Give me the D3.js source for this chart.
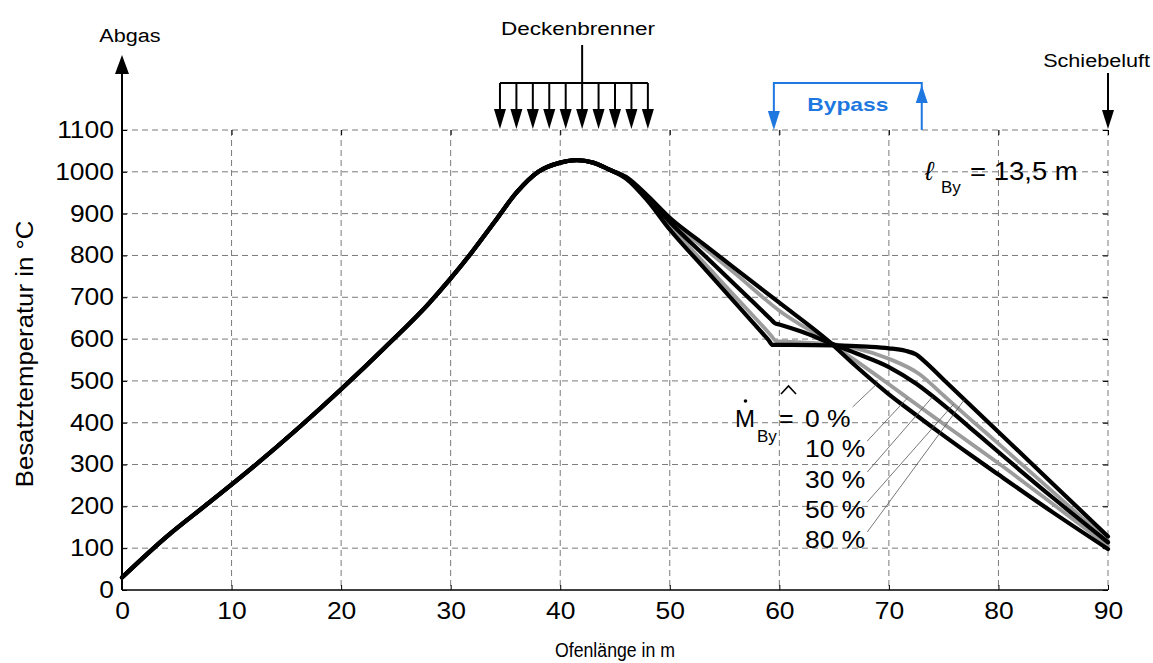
<!DOCTYPE html>
<html lang="de">
<head>
<meta charset="UTF-8">
<title>Besatztemperatur über Ofenlänge</title>
<script src="https://d3js.org/d3.v7.min.js"></script>
<style>
  body { margin: 0; background: #fff; }
  svg { display: block; background: #fff; }
  text { font-family: "Liberation Sans", Arial, sans-serif; fill: #000; }
</style>
</head>
<body>
<svg width="1153" height="663"></svg>
<script>
// Achsen
const xTicks = [0, 10, 20, 30, 40, 50, 60, 70, 80, 90];
const yTicks = [0, 100, 200, 300, 400, 500, 600, 700, 800, 900, 1000, 1100];

// gemeinsamer Verlauf (alle Bypass-Anteile gleich)
const baseX = [0, 4, 8, 12, 16, 20, 24, 28, 30, 32, 34, 36, 38, 40, 41.5, 43, 44.5];
const baseT = [30, 126, 210, 295, 385, 480, 580, 685, 745, 810, 880, 950, 1000, 1022, 1028, 1022, 1005];

// Verlauf ab 46 m je Bypass-Anteil
const x0 = [46, 48, 50, 53, 56, 60, 64.5, 67, 70, 72, 74.6, 77.4, 80, 85, 90];
const t0 = [988, 942, 890, 829, 768, 687, 595, 535, 468, 428, 377, 324, 276, 185, 98];
const x10 = [46, 48, 50, 53, 56, 60, 64.5, 67, 70, 72.5, 75, 77.5, 80, 85, 90];
const t10 = [987, 940, 886, 821, 756, 668, 593, 548, 492, 444, 397, 350, 303, 205, 106];
const x30 = [46, 48, 50, 53, 56, 59.2, 59.6, 60, 62, 64.5, 67, 70, 72.5, 75, 77.5, 80, 85, 90];
const t30 = [986, 938, 880, 804, 729, 648, 638, 635, 618, 592, 566, 533, 493, 442, 386, 330, 220, 114];
const x50 = [46, 48, 50, 53, 56, 59.3, 59.7, 60.1, 62, 64.5, 67, 70, 72.8, 75, 77.5, 80, 85, 90];
const t50 = [985, 935, 872, 786, 701, 607, 595, 594.5, 592, 589, 578, 553, 516, 465, 407, 350, 234, 118];
const x80 = [46, 48, 50, 53, 56, 59, 59.4, 59.8, 65, 68, 70, 71.5, 72.5, 73.2, 75, 80, 85, 90];
const t80 = [984, 930, 862, 774, 686, 598, 586, 586, 585, 582, 578, 572, 563, 548, 503, 378, 253, 128];

const shares = ["0 %", "10 %", "30 %", "50 %", "80 %"];
const leaderX = [68.9, 71.7, 74, 75.9, 76.9];

// Anlage
const burnerPos = [34.5, 36, 37.5, 39, 40.5, 42, 43.5, 45, 46.5, 48];
const bypassFrom = 59.5, bypassTo = 73;

const svg = d3.select("svg");
const pLeft = 122, pRight = 1108, pTop = 130, pBottom = 590;

const x = d3.scaleLinear().domain([0, 90]).range([pLeft, pRight]);
const y = d3.scaleLinear().domain([0, 1100]).range([pBottom, pTop]);

// Text breiter ziehen wie im Original
function stretch(sel, k) {
  sel.each(function () {
    const w = this.getComputedTextLength();
    d3.select(this).attr("textLength", w * k).attr("lengthAdjust", "spacingAndGlyphs");
  });
}

// Gitter
const grid = svg.append("g").attr("stroke", "#7a7a7a").attr("stroke-width", 1)
  .attr("stroke-dasharray", "6,4");
grid.selectAll(".gx").data(xTicks.slice(1)).join("line")
  .attr("x1", d => x(d)).attr("x2", d => x(d)).attr("y1", pTop).attr("y2", pBottom);
grid.selectAll(".gy").data(yTicks.slice(1)).join("line")
  .attr("y1", d => y(d)).attr("y2", d => y(d)).attr("x1", pLeft).attr("x2", pRight);

// Achsen mit Ticks nach innen
const fmt = d3.format("d");
const yAxis = svg.append("g").attr("transform", `translate(${pLeft},0)`)
  .call(d3.axisLeft(y).tickValues(yTicks).tickFormat(fmt).tickSizeInner(-5).tickSizeOuter(0).tickPadding(8));
const xAxis = svg.append("g").attr("transform", `translate(0,${pBottom})`)
  .call(d3.axisBottom(x).tickValues(xTicks).tickFormat(fmt).tickSizeInner(-5).tickSizeOuter(0).tickPadding(13));
svg.append("g").attr("transform", `translate(0,${pTop})`)
  .call(d3.axisTop(x).tickValues(xTicks).tickFormat("").tickSizeInner(-5).tickSizeOuter(0));
svg.append("g").attr("transform", `translate(${pRight},0)`)
  .call(d3.axisRight(y).tickValues(yTicks).tickFormat("").tickSizeInner(-5).tickSizeOuter(0));
svg.selectAll(".domain").remove();
svg.selectAll(".tick line").attr("stroke", "#000");
[yAxis, xAxis].forEach(a => a.selectAll("text")
  .attr("font-family", "Liberation Sans, Arial, sans-serif").attr("font-size", 23).attr("fill", "#000"));
stretch(yAxis.selectAll("text"), 1.15);
stretch(xAxis.selectAll("text"), 1.15);

// Achslinien
svg.append("line").attr("x1", pLeft).attr("x2", pRight).attr("y1", pBottom).attr("y2", pBottom)
  .attr("stroke", "#000").attr("stroke-width", 1.5);
svg.append("line").attr("x1", pLeft).attr("x2", pLeft).attr("y1", pBottom).attr("y2", 72)
  .attr("stroke", "#000").attr("stroke-width", 2);

function head(cx, tipY, dir, w, h, color) {
  svg.append("path")
    .attr("d", `M${cx - w / 2},${tipY - dir * h} L${cx},${tipY} L${cx + w / 2},${tipY - dir * h} Z`)
    .attr("fill", color);
}

// Abgas
head(x(0), 55, -1, 14, 19, "#000");
const tAbgas = svg.append("text").attr("x", x(0) + 8).attr("y", 42).attr("text-anchor", "middle")
  .attr("font-size", 18).text("Abgas");
stretch(tAbgas, 1.2);

// Deckenbrenner
svg.append("line").attr("x1", x(burnerPos[5])).attr("x2", x(burnerPos[5])).attr("y1", 45).attr("y2", 83)
  .attr("stroke", "#000").attr("stroke-width", 2);
svg.append("line").attr("x1", x(burnerPos[0])).attr("x2", x(burnerPos[burnerPos.length - 1]))
  .attr("y1", 83).attr("y2", 83).attr("stroke", "#000").attr("stroke-width", 2);
burnerPos.forEach(p => {
  svg.append("line").attr("x1", x(p)).attr("x2", x(p)).attr("y1", 83).attr("y2", 110)
    .attr("stroke", "#000").attr("stroke-width", 2);
  head(x(p), 129, 1, 12, 20, "#000");
});
const tDecke = svg.append("text").attr("x", 578).attr("y", 35).attr("text-anchor", "middle")
  .attr("font-size", 18).text("Deckenbrenner");
stretch(tDecke, 1.25);

// Bypass
const blue = "#1f77e0";
svg.append("path")
  .attr("d", `M${x(bypassFrom)},112 L${x(bypassFrom)},83 L${x(bypassTo)},83 L${x(bypassTo)},102`)
  .attr("fill", "none").attr("stroke", blue).attr("stroke-width", 2);
svg.append("line").attr("x1", x(bypassTo)).attr("x2", x(bypassTo)).attr("y1", 102).attr("y2", 130)
  .attr("stroke", blue).attr("stroke-width", 2);
head(x(bypassFrom), 130, 1, 12, 19, blue);
head(x(bypassTo), 85, -1, 12, 18, blue);
const tBy = svg.append("text").attr("x", (x(bypassFrom) + x(bypassTo)) / 2).attr("y", 111)
  .attr("text-anchor", "middle").attr("font-size", 19).attr("font-weight", "bold")
  .style("fill", blue).text("Bypass");
stretch(tBy, 1.2);

// Schiebeluft
svg.append("line").attr("x1", x(90)).attr("x2", x(90)).attr("y1", 73).attr("y2", 112)
  .attr("stroke", "#000").attr("stroke-width", 2);
head(x(90), 129, 1, 12, 19, "#000");
const tSchiebe = svg.append("text").attr("x", 1150).attr("y", 67).attr("text-anchor", "end")
  .attr("font-size", 18).text("Schiebeluft");
stretch(tSchiebe, 1.2);

// Kurven
const line = d3.line().x(d => x(d[0])).y(d => y(d[1])).curve(d3.curveMonotoneX);
const tails = [[x0, t0], [x10, t10], [x30, t30], [x50, t50], [x80, t80]];
const colors = ["#000", "#9c9c9c", "#000", "#9c9c9c", "#000"];
const pts = tails.map(([tx, tt]) =>
  baseX.map((v, i) => [v, baseT[i]]).concat(tx.map((v, i) => [v, tt[i]])));

const order = [1, 3, 4, 2, 0];
order.forEach(i => {
  svg.append("path").datum(pts[i]).attr("d", line).attr("fill", "none")
    .attr("stroke", colors[i]).attr("stroke-width", colors[i] === "#000" ? 4.2 : 3.8)
    .attr("stroke-linejoin", "round").attr("stroke-linecap", "round");
});

// Beschriftung Bypass-Anteil
function valueAt(p, xv) {
  const j = d3.bisector(d => d[0]).right(p, xv);
  const a = p[j - 1], b = p[j];
  return a[1] + (b[1] - a[1]) * (xv - a[0]) / (b[0] - a[0]);
}
const labelBase = [427, 457, 488, 518, 548];
const labelX = 805;
shares.forEach((s, i) => {
  const t = svg.append("text").attr("x", labelX).attr("y", labelBase[i]).attr("font-size", 23).text(s);
  stretch(t, 1.15);
  const bb = t.node().getBBox();
  svg.append("line")
    .attr("x1", bb.x + bb.width + 2).attr("y1", labelBase[i] - (i === 0 ? 20 : 16))
    .attr("x2", x(leaderX[i])).attr("y2", y(valueAt(pts[i], leaderX[i])))
    .attr("stroke", "#555").attr("stroke-width", 0.8);
});
// M-Punkt By ≙ (Dach als Strich über dem Gleichheitszeichen)
svg.append("text").attr("x", 735).attr("y", 427).attr("font-size", 24).text("M");
svg.append("circle").attr("cx", 745.5).attr("cy", 401).attr("r", 1.8).attr("fill", "#000");
svg.append("text").attr("x", 757).attr("y", 442).attr("font-size", 17).text("By");
svg.append("text").attr("x", 779).attr("y", 427).attr("font-size", 25).text("=");
svg.append("path").attr("d", "M781,394 L788.5,386 L796,394")
  .attr("fill", "none").attr("stroke", "#000").attr("stroke-width", 1.6);

// ℓ_By = 13,5 m
svg.append("text").attr("x", 925).attr("y", 180).attr("font-size", 26)
  .attr("font-style", "italic").attr("font-family", "DejaVu Sans, sans-serif").text("ℓ");
svg.append("text").attr("x", 941).attr("y", 193).attr("font-size", 17).text("By");
const tLen = svg.append("text").attr("x", 970).attr("y", 180).attr("font-size", 25).text("= 13,5 m");
stretch(tLen, 1.1);

// Achsentitel
const tY = svg.append("text").attr("transform", "translate(33,354) rotate(-90)")
  .attr("text-anchor", "middle").attr("font-size", 23).text("Besatztemperatur in °C");
stretch(tY, 1.12);
const tX = svg.append("text").attr("x", 615).attr("y", 657).attr("text-anchor", "middle")
  .attr("font-size", 20).attr("textLength", 120).attr("lengthAdjust", "spacingAndGlyphs")
  .text("Ofenlänge in m");
</script>
</body>
</html>
